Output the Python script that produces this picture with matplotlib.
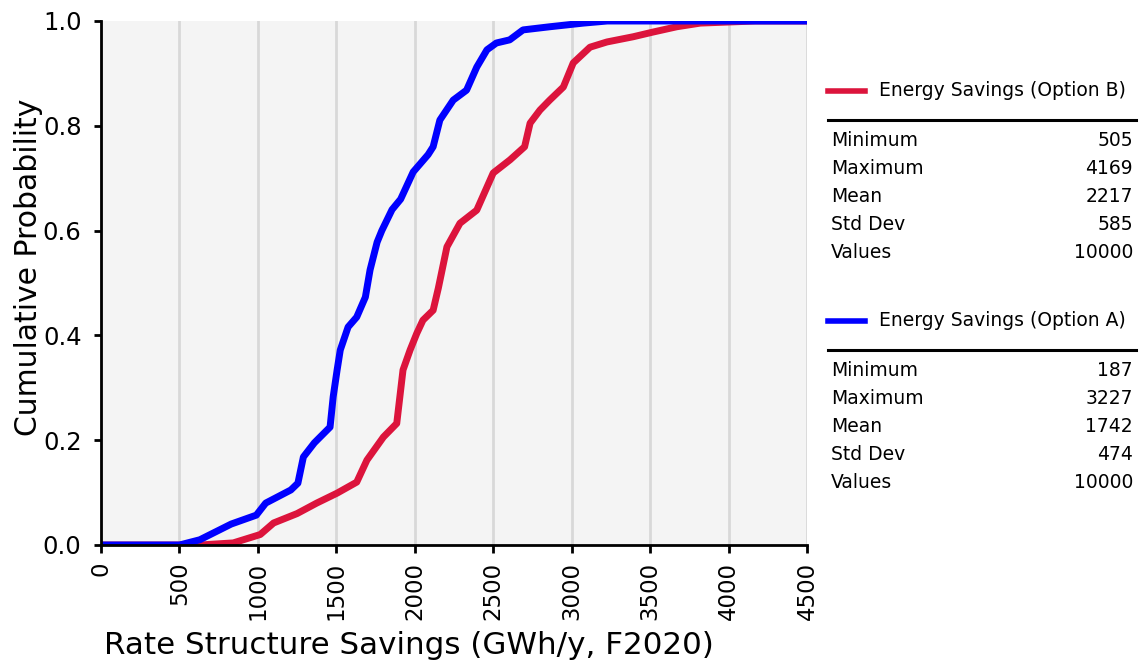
import numpy as np
import matplotlib
matplotlib.use("Agg")
import matplotlib.pyplot as plt
from matplotlib.lines import Line2D

# cumulative curves
xa = [0, 500, 630, 830, 990, 1050, 1210, 1255, 1290, 1360, 1460, 1480, 1505, 1525, 1575,
      1630, 1685, 1715, 1760, 1790, 1855, 1910, 1990, 2085, 2117, 2160, 2245, 2330, 2395,
      2460, 2520, 2605, 2690, 2860, 3075, 3227, 4500]
ya = [0.0, 0.0, 0.01, 0.04, 0.057, 0.08, 0.105, 0.118, 0.168, 0.195, 0.225, 0.283, 0.334,
      0.372, 0.416, 0.435, 0.473, 0.525, 0.578, 0.60, 0.64, 0.66, 0.712, 0.745, 0.76, 0.811,
      0.849, 0.868, 0.912, 0.945, 0.958, 0.964, 0.983, 0.989, 0.996, 1.0, 1.0]

xb = [0, 505, 630, 843, 1015, 1100, 1250, 1375, 1505, 1630, 1695, 1800, 1885, 1905, 1925,
      1970, 2013, 2052, 2117, 2150, 2205, 2288, 2395, 2500, 2607, 2700, 2735, 2798, 2860,
      2947, 3010, 3117, 3225, 3393, 3520, 3670, 3820, 4169, 4500]
yb = [0.0, 0.0, 0.0, 0.004, 0.02, 0.042, 0.06, 0.08, 0.099, 0.12, 0.162, 0.206, 0.232,
      0.283, 0.334, 0.372, 0.404, 0.429, 0.448, 0.49, 0.569, 0.614, 0.639, 0.71, 0.735, 0.76,
      0.805, 0.83, 0.849, 0.874, 0.92, 0.95, 0.96, 0.97, 0.979, 0.989, 0.996, 1.0, 1.0]

stat_names = ["Minimum", "Maximum", "Mean", "Std Dev", "Values"]
stats_b = [505, 4169, 2217, 585, 10000]
stats_a = [187, 3227, 1742, 474, 10000]

red = "#DC143C"
blue = "#0000FF"

plt.rcParams['font.family'] = 'DejaVu Sans'

W, H = 1139, 668
fig = plt.figure(figsize=(W / 100, H / 100), dpi=100)
ax = fig.add_axes([101 / W, 1 - 545 / H, 706 / W, 524 / H])
ax.set_facecolor("#F4F4F4")

ax.plot(xb, yb, color=red, lw=5)
ax.plot(xa, ya, color=blue, lw=5)

ax.set_xlim(0, 4500)
ax.set_ylim(0, 1)
ax.set_xticks(np.arange(0, 4501, 500))
ax.set_yticks(np.arange(0, 1.01, 0.2))
ax.set_yticklabels(["%.1f" % v for v in np.arange(0, 1.01, 0.2)])
ax.tick_params(axis='x', labelrotation=90, labelsize=16.5, length=6, width=2, pad=6)
ax.tick_params(axis='y', labelsize=17.5, length=5, width=2, pad=9)
ax.grid(axis='x', color="#D8D8D8", lw=2)
ax.set_axisbelow(True)
for s in ['top', 'right']:
    ax.spines[s].set_visible(False)
for s in ['left', 'bottom']:
    ax.spines[s].set_linewidth(2)

ax.set_xlabel("Rate Structure Savings (GWh/y, F2020)", fontsize=22.3)
ax.xaxis.set_label_coords((409 - 101) / 706, -(645 - 545) / 524)
ax.xaxis.label.set_va('center')
ax.set_ylabel("Cumulative Probability", fontsize=21.5)
ax.yaxis.set_label_coords(-(101 - 29) / 706, (545 - 267) / 524)
ax.yaxis.label.set_va('center')


def fx(px):
    return px / W


def fy(py):
    return 1 - py / H


def stat_block(top, name, color, vals):
    fig.add_artist(Line2D([fx(828), fx(865)], [fy(top), fy(top)], color=color, lw=4))
    fig.text(fx(879), fy(top), name, fontsize=13.5, va='center', ha='left')
    fig.add_artist(Line2D([fx(828), fx(1136)], [fy(top + 29), fy(top + 29)], color='black', lw=2.2))
    for i, (n, v) in enumerate(zip(stat_names, vals)):
        y = top + 49 + 28 * i
        fig.text(fx(831), fy(y), n, fontsize=13.5, va='center', ha='left')
        fig.text(fx(1133), fy(y), str(v), fontsize=13.5, va='center', ha='right')


stat_block(91, "Energy Savings (Option B)", red, stats_b)
stat_block(321, "Energy Savings (Option A)", blue, stats_a)

fig.savefig("out.png", dpi=100)
